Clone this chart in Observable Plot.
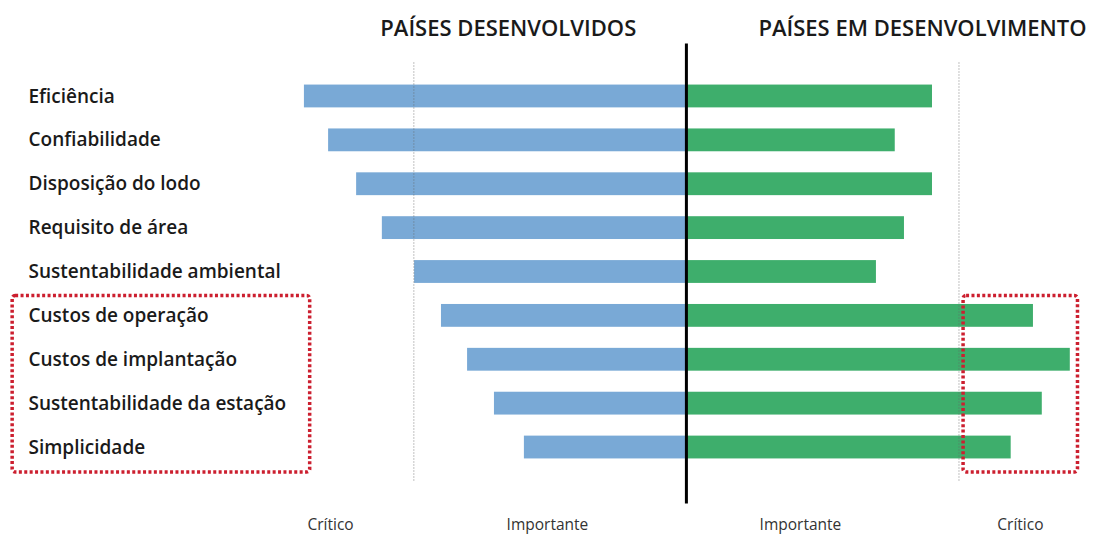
<!DOCTYPE html>
<html><head><meta charset="utf-8">
<script src="https://cdn.jsdelivr.net/npm/d3@7"></script>
<script src="https://cdn.jsdelivr.net/npm/@observablehq/plot@0.6"></script>
<style>body{margin:0;background:#fff}</style>
</head><body><div id="chart"></div>
<script>
const categories = ["Eficiência","Confiabilidade","Disposição do lodo","Requisito de área","Sustentabilidade ambiental","Custos de operação","Custos de implantação","Sustentabilidade da estação","Simplicidade"];
const developed = [9.95, 9.32, 8.59, 7.92, 7.08, 6.38, 5.70, 5.00, 4.22];
const developing = [6.41, 5.44, 6.41, 5.68, 4.95, 9.04, 10.0, 9.27, 8.46];
const criticalLevel = 7.1;
const highlighted = ["Custos de operação","Custos de implantação","Sustentabilidade da estação","Simplicidade"];
const groupTitles = ["PAÍSES DESENVOLVIDOS","PAÍSES EM DESENVOLVIMENTO"];
const groupTitlePos = [-4.64, 6.15];
const scaleLabels = ["Crítico","Importante","Importante","Crítico"];
const scaleLabelPos = [-9.27, -3.62, 2.97, 8.7];

const rows = categories.map((c, i) => ({category: c, developed: developed[i], developing: developing[i]}));

function box(xa, xb, cats, padTop, padBottom) {
  return Plot.frame({
    render(index, scales, values, dims) {
      const x = scales.x, y = scales.y;
      const step = y(categories[1]) - y(categories[0]);
      const bw = step * (1 - 0.48);
      const x1 = x(xa), x2 = x(xb);
      const y1 = y(cats[0]) - padTop, y2 = y(cats[cats.length - 1]) + bw + padBottom;
      const g = d3.create("svg:g");
      g.append("rect").attr("x", x1).attr("y", y1).attr("width", x2 - x1).attr("height", y2 - y1)
        .attr("rx", 3).attr("fill", "none").attr("stroke", "#cc1f2f").attr("stroke-width", 3.5)
        .attr("stroke-dasharray", "3,2.4");
      return g.node();
    }
  });
}

const chart = Plot.plot({
  width: 1093, height: 536,
  marginLeft: 302, marginRight: 4, marginTop: 63.5, marginBottom: 56.5,
  style: {fontFamily: "'Open Sans', sans-serif", background: "#fff"},
  x: {domain: [-10, 10.5], axis: null},
  y: {domain: categories, padding: 0.48, round: false, axis: null},
  marks: [
    Plot.barX(rows, {y: "category", x1: 0, x2: d => -d.developed, fill: "#79a9d6"}),
    Plot.barX(rows, {y: "category", x1: 0, x2: d => d.developing, fill: "#3eae6c"}),
    Plot.ruleX([-criticalLevel, criticalLevel], {stroke: "#666", strokeOpacity: 0.8, strokeWidth: 1, strokeDasharray: "1,2", insetTop: -1, insetBottom: -2}),
    Plot.ruleX([0], {stroke: "#000", strokeWidth: 3, insetTop: -20, insetBottom: -24}),
    Plot.text(categories, {y: d => d, text: d => d, frameAnchor: "left", textAnchor: "start", dx: -274, fontSize: 19, fontWeight: 600, fill: "#1a1a1a"}),
    Plot.text(groupTitles, {x: (d, i) => groupTitlePos[i], text: d => d, frameAnchor: "top", lineAnchor: "middle", dy: -35.5, fontSize: 22, fontWeight: 600, fill: "#1a1a1a"}),
    Plot.text(scaleLabels, {x: (d, i) => scaleLabelPos[i], text: d => d, frameAnchor: "bottom", lineAnchor: "middle", dy: 45.5, fontSize: 15.5, fill: "#333"}),
    box(-17.55, -9.8, highlighted, 8.5, 13.5),
    box(7.22, 10.2, highlighted, 8.5, 13.5)
  ]
});
document.getElementById("chart").append(chart);
</script>
</body></html>
